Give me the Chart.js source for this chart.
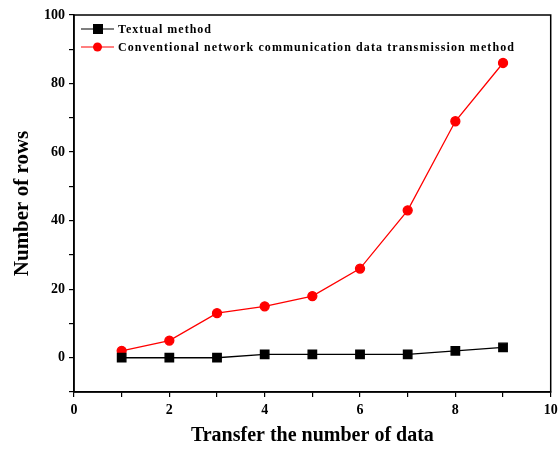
<!DOCTYPE html>
<html><head><meta charset="utf-8">
<script src="https://cdn.jsdelivr.net/npm/chart.js@4/dist/chart.umd.min.js"></script>
<style>html,body{margin:0;padding:0;background:#fff}#wrap{width:558px;height:452px}</style>
</head><body><div id="wrap"><canvas id="c" width="558" height="452"></canvas></div>
<script>
const xValues = [1, 2, 3, 4, 5, 6, 7, 8, 9];
const textualMethod = [0, 0, 0, 1, 1, 1, 1, 2, 3];
const conventionalMethod = [2, 5, 13, 15, 18, 26, 43, 69, 86];
const seriesNames = ["Textual method", "Conventional network communication data transmission method"];
const xTitle = "Transfer the number of data";
const yTitle = "Number of rows";

const serif = "'Liberation Serif','Times New Roman',serif";

const framePlugin = {
  id: 'frame',
  afterDatasetsDraw(chart) {
    const {ctx, chartArea: a} = chart;
    ctx.save();
    ctx.strokeStyle = '#000';
    ctx.lineWidth = 1.5;
    ctx.strokeRect(a.left, a.top, a.right - a.left, a.bottom - a.top);
    const items = [
      {name: seriesNames[0], color: '#000', style: 'rect', w: 93},
      {name: seriesNames[1], color: '#ff0000', style: 'circle', w: 396}
    ];
    items.forEach((it, i) => {
      const y = a.top + 14 + i * 18;
      const x0 = a.left + 7;
      ctx.strokeStyle = it.color;
      ctx.lineWidth = 1.2;
      ctx.beginPath(); ctx.moveTo(x0, y); ctx.lineTo(x0 + 33, y); ctx.stroke();
      ctx.fillStyle = it.color;
      if (it.style === 'rect') ctx.fillRect(x0 + 12, y - 5, 10, 10);
      else { ctx.beginPath(); ctx.arc(x0 + 16.5, y, 4.5, 0, Math.PI * 2); ctx.fill(); }
      ctx.fillStyle = '#000';
      ctx.font = "bold 12px " + serif;
      ctx.textBaseline = 'middle';
      const m = ctx.measureText(it.name).width;
      const n = it.name.length - 1;
      ctx.letterSpacing = Math.max(0, (it.w - m) / n) + 'px';
      ctx.fillText(it.name, x0 + 37, y + 1);
      ctx.letterSpacing = '0px';
    });
    ctx.restore();
  }
};

new Chart(document.getElementById('c'), {
  type: 'line',
  data: {
    datasets: [
      {
        label: seriesNames[0],
        data: xValues.map((x, i) => ({x, y: textualMethod[i]})),
        borderColor: '#000', backgroundColor: '#000', borderWidth: 1.3,
        pointStyle: 'rect', pointRadius: 6, pointHoverRadius: 6, tension: 0
      },
      {
        label: seriesNames[1],
        data: xValues.map((x, i) => ({x, y: conventionalMethod[i]})),
        borderColor: '#ff0000', backgroundColor: '#ff0000', borderWidth: 1.3,
        pointStyle: 'circle', pointRadius: 4.5, pointHoverRadius: 4.5, tension: 0
      }
    ]
  },
  options: {
    responsive: false, animation: false,
    layout: {padding: {top: 15, right: 5, left: 0, bottom: 0}},
    plugins: {legend: {display: false}, tooltip: {enabled: false}},
    scales: {
      x: {
        type: 'linear', min: 0, max: 10,
        afterFit(s) { s.height = 60; s.paddingRight = 0; s.paddingLeft = 0; },
        ticks: {stepSize: 1, autoSkip: false, maxRotation: 0, color: '#000', padding: 5,
          font: {family: serif, size: 14, weight: 'bold'},
          callback: v => (v % 2 === 0 ? String(v) : '')},
        grid: {drawOnChartArea: false, color: '#000', tickLength: 5, lineWidth: 1.2},
        border: {color: '#000', width: 1.5},
        title: {display: true, text: xTitle, color: '#000', padding: {top: 5},
          font: {family: serif, size: 20, weight: 'bold'}}
      },
      y: {
        type: 'linear', min: -10, max: 100,
        afterFit(s) { s.width = 74; },
        ticks: {stepSize: 10, autoSkip: false, color: '#000', padding: 4,
          font: {family: serif, size: 14, weight: 'bold'},
          callback: v => (v >= 0 && v % 20 === 0 ? String(v) : '')},
        grid: {drawOnChartArea: false, color: '#000', tickLength: 5, lineWidth: 1.2},
        border: {color: '#000', width: 1.5},
        title: {display: true, text: yTitle, color: '#000', padding: {top: 10, bottom: 0},
          font: {family: serif, size: 21, weight: 'bold'}}
      }
    }
  },
  plugins: [framePlugin]
});
</script></body></html>
